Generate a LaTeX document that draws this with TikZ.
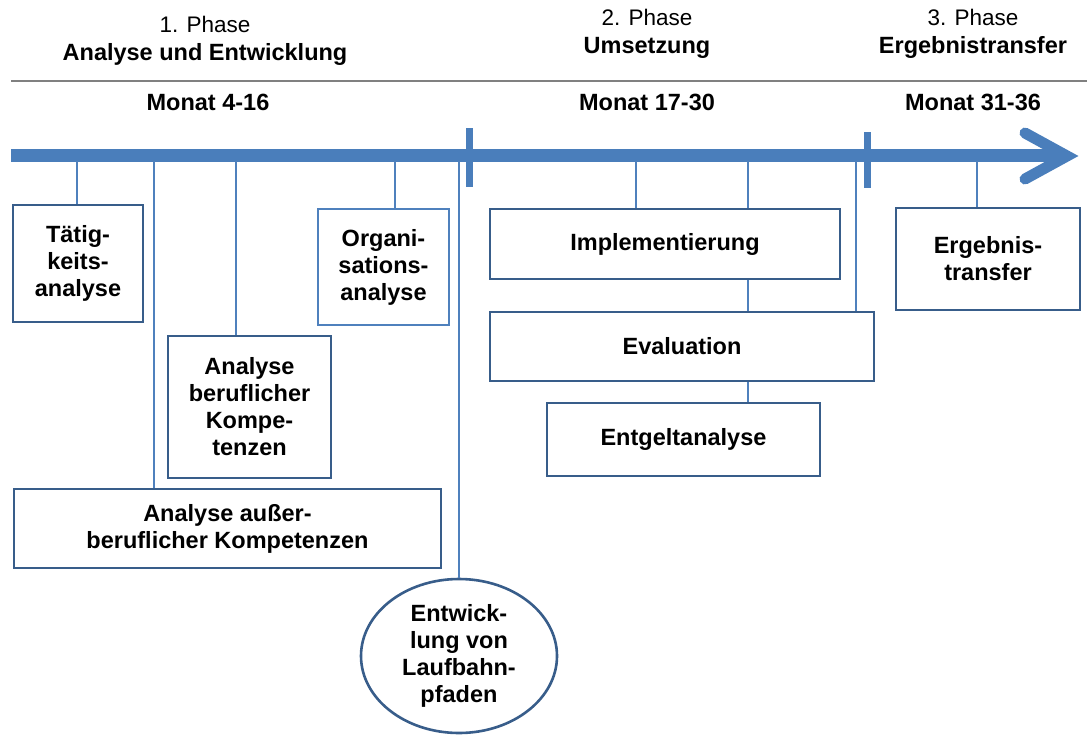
\documentclass[tikz,border=0pt]{standalone}
\usepackage{fontspec}
\setmainfont{Liberation Sans}
\usepackage{tikz}
\usetikzlibrary{arrows.meta, positioning, calc, shapes.geometric}
\definecolor{axiscol}{RGB}{74,126,187}
\definecolor{linecol}{RGB}{79,129,189}
\definecolor{boxcol}{RGB}{56,93,138}
\definecolor{rulecol}{RGB}{128,128,128}

\begin{document}
\begin{tikzpicture}[
  x=1pt, y=-1pt,
  box/.style={rectangle, draw=boxcol, line width=2.6pt, fill=white,
              inner sep=0pt, align=center,
              font=\fontsize{23.5pt}{27pt}\selectfont\bfseries},
  oval/.style={ellipse, draw=boxcol, line width=2.6pt, fill=white,
               inner sep=0pt, align=center,
               font=\fontsize{23.5pt}{27pt}\selectfont\bfseries},
  head/.style={align=center, font=\fontsize{22.5pt}{28pt}\selectfont},
  month/.style={font=\fontsize{23.5pt}{26pt}\selectfont\bfseries},
  conn/.style={draw=linecol, line width=2.6pt},
  axis/.style={draw=axiscol, line width=13pt},
  tick/.style={draw=axiscol, line width=7pt},
]
\useasboundingbox (0,0) rectangle (1087,734);

% Phases
\node[head] (ph1) at (205,41) {1. Phase\\{\fontsize{23.5pt}{28pt}\selectfont\bfseries Analyse und Entwicklung}};
\node[head] (ph2) at (647,34) {2. Phase\\{\fontsize{23.5pt}{28pt}\selectfont\bfseries Umsetzung}};
\node[head] (ph3) at (973,34) {3. Phase\\{\fontsize{23.5pt}{28pt}\selectfont\bfseries Ergebnistransfer}};
\coordinate (r0) at (11,81);
\coordinate (r1) at (1087,81);
\draw[rulecol, line width=1.5pt] (r0) -- (r1);

% Months
\node[month] (m1) at (208,102) {Monat 4-16};
\node[month] (m2) at (647,102) {Monat 17-30};
\node[month] (m3) at (973,102) {Monat 31-36};

% Time axis
\coordinate (ax0) at (11,155);
\coordinate (ax1) at (1064,155);
\coordinate (tipA) at (1025,133);
\coordinate (tip) at (1067,156);
\coordinate (tipB) at (1025,179);
\draw[axis] (ax0) -- (ax1);
\draw[axis, line width=11pt, line cap=round, line join=miter] (tipA) -- (tip) -- (tipB);
\coordinate (k1) at (469,128);
\coordinate (k2) at (867,132);
\draw[tick] (k1) -- ++(0,59);
\draw[tick] (k2) -- ++(0,56);

% Activities
\node[box, minimum width=130pt, minimum height=117pt] (taet) at (78,263.5) {T\"atig-\\keits-\\analyse};
\node[box, draw=linecol, minimum width=131pt, minimum height=116pt] (orga) at (383.5,267) {Organi-\\sations-\\analyse};
\node[box, minimum width=163pt, minimum height=142pt] (aberuf) at (249.5,407) {Analyse\\beruflicher\\Kompe-\\tenzen};
\node[box, minimum width=427pt, minimum height=79pt] (aauss) at (227.5,528.5) {Analyse au\ss er-\\beruflicher Kompetenzen};
\node[oval, minimum width=196pt, minimum height=154pt] (entw) at (459,656) {Entwick-\\lung von\\Laufbahn-\\pfaden};
\node[box, minimum width=350pt, minimum height=70pt] (impl) at (665,244) {Implementierung};
\node[box, minimum width=384pt, minimum height=69pt] (eval) at (682,346.5) {Evaluation};
\node[box, minimum width=273pt, minimum height=73pt] (entg) at (683.5,439.5) {Entgeltanalyse};
\node[box, minimum width=184pt, minimum height=102pt] (ergt) at (988,259) {Ergebnis-\\transfer};

% Connectors
\coordinate (a1) at (77,161);
\coordinate (a2) at (154,161);
\coordinate (a3) at (236,161);
\coordinate (a4) at (395,161);
\coordinate (a5) at (459,161);
\coordinate (a6) at (636,161);
\coordinate (a7) at (748,161);
\coordinate (a8) at (856,161);
\coordinate (a9) at (977,161);
\draw[conn] (a1) -- (a1 |- taet.north);
\draw[conn] (a2) -- (a2 |- aauss.north);
\draw[conn] (a3) -- (a3 |- aberuf.north);
\draw[conn] (a4) -- (a4 |- orga.north);
\draw[conn] (a5) -- (entw.north);
\draw[conn] (a6) -- (a6 |- impl.north);
\draw[conn] (a7) -- (a7 |- impl.north);
\draw[conn] (a7 |- impl.south) -- (a7 |- eval.north);
\draw[conn] (a7 |- eval.south) -- (a7 |- entg.north);
\draw[conn] (a8) -- (a8 |- eval.north);
\draw[conn] (a9) -- (a9 |- ergt.north);
\end{tikzpicture}
\end{document}
